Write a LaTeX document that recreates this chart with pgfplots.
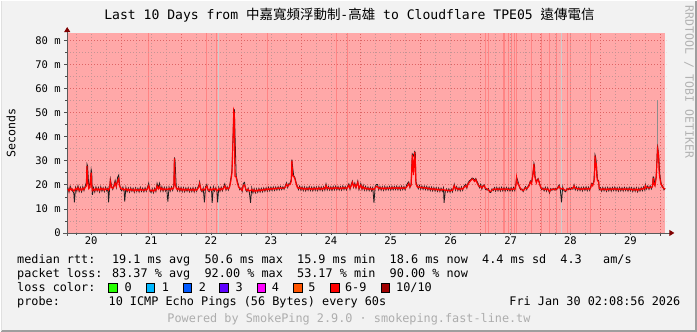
\documentclass[border=0pt]{standalone}
\usepackage{fontspec}
\setmainfont{DejaVu Sans Mono}
\newfontfamily\cjk{Noto Sans CJK TC}
\usepackage{pgfplots}
\usepackage{pgfplotstable}
\pgfplotsset{compat=1.18}
\usetikzlibrary{arrows.meta}

\definecolor{canvasbg}{RGB}{242,242,242}
\definecolor{losspink}{RGB}{255,168,168}
\definecolor{lossline}{RGB}{255,132,132}
\definecolor{mgridc}{RGB}{222,100,100}
\definecolor{ngridc}{RGB}{196,148,148}
\definecolor{arrowred}{RGB}{128,0,0}
\definecolor{smoke}{RGB}{30,30,30}
\definecolor{smokelite}{RGB}{205,205,205}
\definecolor{lc0}{HTML}{26FF00}
\definecolor{lc1}{HTML}{00B8FF}
\definecolor{lc2}{HTML}{0059FF}
\definecolor{lc3}{HTML}{5E00FF}
\definecolor{lc4}{HTML}{FF00FF}
\definecolor{lc5}{HTML}{FF5500}
\definecolor{lc6}{HTML}{FF0000}
\definecolor{lc10}{HTML}{A00000}

% x = day of January (fractional), m = median rtt (ms), s = smoke (ms)
\pgfplotstableread{
x m s
20.11 18.3 18.9
20.13 17.5 17.0
20.15 18.6 19.4
20.17 17.8 18.2
20.19 18.2 17.4
20.21 17.4 16.6
20.22 17.6 12.7
20.24 18.5 18.9
20.26 17.9 17.3
20.28 18.8 19.6
20.30 17.6 17.2
20.32 18.4 18.9
20.34 17.7 17.1
20.36 18.6 19.2
20.38 18.0 17.6
20.40 18.9 19.5
20.42 19.5 21.0
20.43 27.8 28.6
20.44 22.0 27.9
20.46 18.4 19.2
20.48 19.0 20.5
20.50 25.0 26.3
20.51 19.5 25.0
20.52 17.6 15.8
20.54 18.2 18.8
20.56 17.6 17.0
20.58 18.5 19.1
20.60 17.8 17.4
20.62 18.3 18.9
20.64 17.6 17.0
20.66 18.6 19.2
20.68 17.9 17.3
20.70 18.4 18.8
20.72 17.7 17.2
20.74 18.5 19.0
20.76 18.0 17.5
20.78 18.3 18.7
20.79 17.8 12.7
20.81 18.7 19.2
20.82 21.5 22.4
20.84 18.9 19.6
20.86 18.5 18.1
20.88 19.2 19.9
20.90 20.8 21.8
20.92 19.4 19.0
20.94 21.5 23.0
20.96 22.5 24.0
20.97 19.8 21.0
20.99 18.6 18.2
21.01 18.1 17.5
21.03 18.4 19.0
21.05 17.8 17.2
21.06 17.9 13.0
21.08 18.4 18.9
21.10 17.6 17.1
21.12 18.2 18.7
21.14 17.5 17.0
21.16 18.3 18.8
21.18 17.7 17.3
21.20 18.1 18.6
21.22 17.4 16.9
21.24 18.2 18.7
21.26 17.6 17.2
21.28 18.0 18.5
21.30 17.5 17.0
21.32 18.3 18.9
21.34 17.7 17.3
21.36 18.1 18.6
21.38 17.6 17.1
21.40 18.2 18.8
21.42 17.8 17.3
21.44 18.4 18.9
21.46 19.6 20.6
21.48 17.9 17.3
21.50 17.4 16.8
21.52 17.9 18.4
21.54 17.2 16.7
21.56 18.1 18.6
21.58 17.7 17.2
21.60 19.5 20.6
21.62 18.3 18.8
21.64 19.3 20.6
21.66 18.0 17.5
21.68 18.6 19.2
21.70 17.8 17.3
21.72 18.4 18.9
21.74 17.9 17.4
21.76 18.3 18.8
21.78 18.0 13.0
21.80 18.5 19.0
21.82 17.9 17.4
21.84 18.6 19.1
21.86 18.2 17.7
21.88 19.0 19.6
21.89 31.0 31.4
21.90 20.5 30.0
21.92 18.6 19.2
21.94 18.0 17.5
21.96 18.6 19.1
21.98 17.8 17.3
22.00 18.4 18.9
22.02 17.7 17.2
22.04 18.3 18.8
22.06 17.6 17.1
22.08 18.2 18.7
22.10 17.8 17.3
22.12 18.3 18.8
22.14 17.6 17.1
22.16 18.1 18.6
22.18 17.7 17.2
22.20 18.3 18.8
22.22 17.5 17.0
22.24 18.2 18.7
22.26 17.8 17.3
22.28 18.4 18.9
22.30 19.2 20.0
22.31 20.4 21.2
22.33 18.3 17.8
22.35 17.6 17.1
22.37 18.2 18.7
22.39 17.8 12.7
22.41 18.6 19.2
22.43 19.4 20.1
22.45 18.1 17.6
22.47 17.6 17.1
22.49 18.3 18.9
22.51 17.7 17.2
22.52 17.9 12.5
22.54 18.5 19.1
22.56 17.9 17.4
22.58 18.3 18.8
22.60 17.5 17.0
22.61 17.6 12.7
22.63 18.4 18.9
22.65 17.8 17.3
22.67 18.5 19.0
22.69 18.0 17.5
22.71 18.6 19.1
22.73 19.5 20.4
22.75 18.2 17.8
22.77 18.7 19.2
22.79 18.3 17.8
22.81 19.0 19.5
22.83 21.5 22.4
22.85 25.0 26.0
22.87 41.0 41.5
22.88 50.6 50.6
22.89 49.5 51.0
22.90 23.6 41.5
22.92 23.2 23.8
22.94 20.8 21.5
22.96 19.1 19.8
22.98 18.5 18.0
23.00 18.2 18.7
23.02 17.7 17.2
23.04 19.8 20.6
23.06 19.9 21.0
23.08 18.3 17.8
23.10 17.6 17.1
23.12 18.1 18.6
23.14 17.4 16.9
23.16 17.6 12.5
23.18 18.1 18.7
23.20 17.3 16.6
23.22 17.9 18.4
23.24 17.2 16.7
23.26 17.8 18.3
23.28 17.4 16.9
23.30 18.0 18.5
23.32 17.5 17.0
23.34 18.0 18.5
23.36 17.6 17.1
23.38 18.2 18.7
23.40 17.8 17.3
23.42 18.3 18.8
23.44 17.9 17.4
23.46 18.4 18.9
23.48 18.0 17.5
23.50 18.5 19.0
23.52 18.1 17.6
23.54 18.6 19.1
23.56 18.2 17.7
23.58 18.6 19.1
23.60 18.3 17.8
23.62 18.7 19.2
23.64 18.4 17.9
23.66 18.8 19.3
23.68 18.5 18.0
23.70 18.7 19.2
23.72 18.6 18.1
23.74 19.0 19.6
23.76 20.2 20.8
23.78 19.4 18.9
23.80 20.0 20.6
23.82 20.1 20.7
23.84 21.5 22.2
23.85 30.0 30.4
23.86 24.0 28.0
23.88 23.5 23.8
23.90 22.5 23.0
23.92 20.5 21.0
23.94 19.0 19.5
23.96 18.5 18.0
23.98 18.9 19.4
24.00 18.3 17.8
24.02 18.7 19.2
24.04 18.1 17.6
24.06 18.6 19.1
24.08 18.0 17.5
24.10 18.5 19.0
24.12 18.2 17.7
24.14 18.7 19.2
24.16 18.1 17.6
24.18 18.5 19.0
24.20 18.0 17.5
24.22 18.6 19.1
24.24 18.2 17.7
24.26 18.6 19.1
24.28 18.1 17.6
24.30 18.7 19.2
24.32 18.2 17.7
24.34 18.6 19.1
24.36 18.1 17.6
24.38 18.7 19.2
24.40 18.3 17.8
24.42 19.6 20.3
24.44 18.4 17.9
24.46 18.8 19.3
24.48 18.3 17.8
24.50 18.7 19.2
24.52 18.2 17.7
24.54 18.8 19.3
24.56 18.4 17.9
24.58 18.9 19.4
24.60 18.4 17.9
24.62 18.8 19.3
24.64 18.3 17.8
24.66 18.7 19.2
24.68 18.3 17.8
24.70 18.9 19.5
24.72 18.5 18.0
24.74 18.8 19.3
24.76 18.4 17.9
24.78 18.9 19.4
24.80 19.8 20.4
24.82 18.6 18.1
24.84 19.6 20.2
24.86 21.0 21.5
24.88 19.3 19.0
24.90 20.1 20.7
24.92 19.0 18.6
24.95 21.0 21.5
24.97 18.6 18.0
25.00 19.9 20.5
25.02 18.5 18.0
25.04 19.2 19.8
25.06 18.3 17.8
25.08 18.8 19.3
25.10 18.2 17.7
25.12 18.6 19.1
25.14 18.1 17.6
25.16 18.5 19.0
25.18 18.0 17.5
25.20 18.4 18.9
25.22 18.0 12.5
25.24 18.7 19.2
25.26 19.3 20.1
25.28 19.2 20.1
25.30 18.4 17.9
25.32 18.8 19.3
25.34 18.3 17.8
25.36 18.7 19.2
25.38 18.2 17.7
25.40 18.8 19.3
25.42 18.3 17.8
25.44 18.7 19.2
25.46 18.4 17.9
25.48 18.8 19.3
25.50 18.3 17.8
25.52 18.9 19.4
25.54 18.4 17.9
25.56 18.8 19.3
25.58 18.5 18.0
25.60 18.9 19.4
25.62 18.4 17.9
25.64 18.8 19.3
25.66 18.3 17.8
25.68 18.9 19.4
25.70 18.5 18.0
25.72 18.8 19.3
25.74 18.4 17.9
25.76 19.0 19.5
25.78 19.6 20.6
25.80 20.5 21.2
25.82 19.2 18.8
25.84 19.8 20.5
25.86 32.5 32.8
25.88 24.0 32.0
25.90 33.5 33.8
25.91 30.0 33.5
25.92 20.6 21.3
25.94 19.2 19.8
25.96 18.9 18.4
25.98 19.2 19.7
26.00 18.7 18.2
26.02 19.0 19.5
26.04 18.6 18.1
26.06 18.9 19.4
26.08 18.5 18.0
26.10 18.8 19.3
26.12 18.3 17.8
26.14 18.6 19.1
26.16 18.1 17.6
26.18 18.5 19.0
26.20 18.0 17.5
26.22 18.4 18.9
26.24 17.9 17.4
26.26 18.3 18.8
26.28 17.8 17.3
26.30 18.2 18.7
26.32 17.7 17.2
26.34 18.1 18.6
26.36 17.8 17.3
26.38 18.2 18.7
26.39 17.9 12.5
26.41 17.6 17.2
26.43 17.9 18.3
26.45 17.5 17.0
26.47 17.8 18.3
26.49 17.4 16.9
26.51 17.8 18.3
26.53 17.6 17.1
26.56 19.6 20.2
26.58 18.3 17.8
26.60 18.7 19.2
26.62 18.1 17.6
26.64 18.4 18.9
26.66 18.0 17.5
26.68 18.6 19.1
26.70 18.2 17.7
26.72 18.8 19.3
26.75 19.6 20.2
26.77 19.0 18.6
26.79 20.2 20.8
26.81 21.0 21.6
26.83 21.6 22.0
26.86 22.4 22.8
26.88 22.0 22.6
26.90 21.4 21.9
26.92 22.2 22.6
26.94 20.8 21.4
26.96 19.8 20.4
26.98 19.2 18.8
27.00 19.5 20.1
27.02 18.7 18.2
27.04 19.3 19.8
27.06 19.6 20.0
27.08 18.6 18.1
27.11 18.3 17.8
27.13 17.9 18.4
27.15 17.4 16.9
27.17 17.3 16.8
27.19 17.8 18.3
27.21 18.1 17.6
27.23 18.3 18.8
27.25 17.9 17.4
27.27 18.4 18.9
27.29 18.0 17.5
27.31 18.3 18.8
27.33 17.9 17.4
27.35 18.4 18.9
27.37 18.0 17.5
27.39 18.3 18.8
27.41 17.9 17.4
27.43 18.4 18.9
27.45 18.1 17.6
27.47 18.2 18.7
27.49 17.9 17.4
27.51 18.3 18.8
27.53 18.0 17.5
27.55 18.4 18.9
27.57 18.1 17.6
27.59 19.8 20.5
27.60 22.8 23.1
27.61 21.0 22.5
27.63 20.3 20.8
27.65 19.2 18.8
27.67 18.3 17.9
27.69 17.9 18.3
27.71 17.6 17.2
27.73 18.0 18.5
27.75 18.7 19.2
27.77 18.4 18.0
27.79 18.9 19.4
27.81 19.6 20.2
27.83 21.2 21.6
27.85 20.4 21.0
27.87 23.6 24.0
27.89 28.6 28.9
27.90 24.5 28.0
27.91 22.8 23.3
27.93 20.8 21.2
27.94 21.5 21.9
27.96 22.2 22.6
27.98 20.6 21.1
28.00 19.2 18.8
28.02 18.4 18.0
28.04 18.2 18.7
28.06 18.0 17.5
28.08 18.4 18.9
28.10 17.9 17.4
28.12 18.3 18.8
28.14 17.8 17.3
28.15 17.2 16.6
28.17 17.9 18.4
28.19 18.2 17.7
28.21 18.0 18.5
28.23 18.3 17.8
28.25 17.9 18.4
28.27 18.4 17.9
28.29 18.6 19.1
28.31 19.4 19.9
28.33 18.5 18.0
28.35 18.2 12.7
28.37 18.6 19.1
28.39 18.1 17.6
28.42 17.6 17.1
28.44 18.0 18.5
28.46 18.4 17.9
28.48 18.2 18.7
28.50 18.5 18.0
28.52 18.3 18.8
28.54 18.7 18.2
28.56 19.5 20.0
28.58 18.4 17.9
28.60 18.6 19.1
28.62 18.2 17.7
28.64 18.5 19.0
28.66 18.1 17.6
28.68 18.4 18.9
28.70 18.0 17.5
28.72 18.5 19.0
28.74 18.2 17.7
28.76 18.6 19.1
28.78 18.1 17.6
28.80 18.5 19.0
28.82 18.2 17.7
28.84 18.9 19.4
28.85 20.2 20.6
28.87 19.6 20.2
28.89 21.1 21.5
28.90 23.0 26.0
28.91 32.1 32.4
28.92 27.0 31.5
28.93 29.2 29.5
28.94 23.5 26.0
28.95 21.8 22.3
28.97 21.2 21.6
28.98 18.5 18.0
29.00 18.3 18.8
29.02 17.9 17.4
29.04 18.4 18.9
29.06 18.0 17.5
29.08 18.3 18.8
29.10 17.8 17.3
29.12 18.4 18.9
29.14 18.0 17.5
29.16 18.3 18.8
29.18 17.9 17.4
29.20 18.4 18.9
29.22 18.1 17.6
29.24 18.5 19.0
29.26 18.0 17.5
29.28 18.3 18.8
29.30 17.9 17.4
29.32 18.4 18.9
29.34 18.0 17.5
29.36 18.3 18.8
29.38 17.9 17.4
29.40 18.4 18.9
29.42 18.1 17.6
29.44 18.3 18.8
29.46 17.9 17.4
29.48 18.4 18.9
29.50 18.0 17.5
29.52 18.3 18.8
29.54 17.7 17.2
29.56 18.2 18.7
29.58 17.8 17.3
29.60 18.3 18.8
29.62 17.6 17.1
29.64 18.2 18.7
29.66 17.9 17.4
29.68 18.4 18.9
29.70 18.1 17.6
29.72 18.6 19.1
29.74 18.3 17.8
29.75 19.6 20.1
29.77 18.8 18.3
29.79 19.0 19.5
29.81 18.6 18.1
29.83 19.1 19.6
29.85 18.8 18.3
29.87 19.3 19.8
29.88 22.8 23.3
29.89 20.5 23.0
29.91 19.6 20.1
29.93 22.9 23.4
29.94 27.9 28.4
29.95 33.0 35.5
29.955 34.7 36.0
29.97 32.2 32.6
29.98 25.2 29.0
29.99 23.0 24.5
30.01 20.3 21.0
30.03 19.6 19.1
30.04 19.0 19.5
30.06 18.4 17.9
30.08 18.2 18.6
}\rtt

\newcommand\legfont{\fontsize{11.84}{14}\selectfont}

\pgfplotsset{
  rrdframe/.style={
    at={(66.3pt,98.7pt)}, anchor=south west,
    scale only axis, width=600pt, height=200.2pt,
    xmin=20.1, xmax=30.1, ymin=0, ymax=83,
  }
}

\begin{document}
\begin{tikzpicture}
\fill[canvasbg] (0pt,0pt) rectangle (697pt,331pt);
\draw[black!38, line width=2pt] (696pt,331pt) -- (696pt,1pt) -- (0pt,1pt);
\draw[black!12, line width=1.5pt] (0.75pt,1pt) -- (0.75pt,331pt);

% background axis: loss-colour area
\begin{axis}[rrdframe, hide axis]
\addplot[fill=losspink, draw=none] coordinates {(20.1,83) (30.08,83)} \closedcycle;
\addplot[ycomb, draw=lossline, line width=1.3pt] coordinates {
 (21.462,83) (22.420,83) (22.587,83) (23.440,83) (24.595,83) (24.778,83)
 (27.078,83) (27.135,83) (27.390,83) (27.470,83) (27.512,83) (27.560,83)
 (27.595,83) (27.853,83) (28.015,83) (28.145,83) (28.262,83) (28.445,83)
 (28.495,83) (28.833,83)};
\addplot[ycomb, draw=smokelite, line width=0.9pt] coordinates {(22.62,83) (28.345,83)};
\end{axis}

% foreground axis: grid, ticks, data
\begin{axis}[
  rrdframe,
  axis x line*=bottom, axis y line*=left,
  axis line style={draw=black!65, line width=0.9pt},
  x axis line style={-{Triangle[length=5pt,width=6pt,color=arrowred]}, shorten >=-8pt, shorten <=-4pt},
  y axis line style={-{Triangle[length=5pt,width=6pt,color=arrowred]}, shorten >=-6pt, shorten <=-3pt},
  tick align=outside,
  xtick={21,22,...,30}, xticklabels={},
  minor xtick={20.25,20.5,...,30},
  extra x ticks={20.5,21.5,...,29.5},
  extra x tick labels={20,21,22,23,24,25,26,27,28,29},
  extra x tick style={major tick length=0pt, grid=none},
  ytick={0,10,...,80},
  yticklabels={0,10 m,20 m,30 m,40 m,50 m,60 m,70 m,80 m},
  minor ytick={5,15,...,75},
  major tick length=3pt, minor tick length=2pt,
  tick style={black!70, line width=0.6pt},
  grid=both,
  major grid style={draw=mgridc, line width=0.6pt, dash pattern=on 1pt off 2pt},
  minor grid style={draw=ngridc, line width=0.6pt, dash pattern=on 1pt off 2pt},
  tick label style={font=\fontsize{10.5}{12}\selectfont, text=black},
]
\addplot[draw=black!45, line width=1pt] coordinates {(29.955,30) (29.955,55)};
\addplot[draw=smoke, line width=0.8pt] table[x=x, y=s] {\rtt};
\addplot[draw=red, line width=1.2pt] table[x=x, y=m] {\rtt};
\end{axis}

% title and side texts
\node[anchor=base, inner sep=0] at (349pt,312pt) {\fontsize{13.1}{15}\selectfont Last 10 Days from {\cjk\fontsize{13.5}{15}\selectfont 中嘉寬頻浮動制}-{\cjk\fontsize{13.5}{15}\selectfont 高雄} to Cloudflare TPE05 {\cjk\fontsize{13.5}{15}\selectfont 遠傳電信}};
\node[rotate=90, inner sep=0] at (10pt,199pt) {\fontsize{11.6}{14}\selectfont Seconds};
\node[rotate=-90, inner sep=0, text=black!30] at (689pt,250pt) {\fontsize{11.5}{14}\selectfont RRDTOOL / TOBI OETIKER};

% legend
\node[anchor=base west, inner sep=0] at (16pt,68pt) {\legfont median rtt:~ 19.1 ms avg~ 50.6 ms max~ 15.9 ms min~ 18.6 ms now~ 4.4 ms sd~ 4.3~~ am/s};
\node[anchor=base west, inner sep=0] at (16pt,54pt) {\legfont packet loss: 83.37 \% avg~ 92.00 \% max~ 53.17 \% min~ 90.00 \% now};
\node[anchor=base west, inner sep=0] at (16pt,40pt) {\legfont loss color:};
\foreach \bx/\cc/\tx/\lx in {108/lc0/0/123.6, 145.3/lc1/1/160.9, 182.2/lc2/2/198, 219/lc3/3/234.7, 256.5/lc4/4/271, 293.3/lc5/5/307.5, 330/lc6/6-9/344.4, 381/lc10/10\slash10/395.6}{
  \filldraw[fill=\cc, draw=black, line width=0.8pt] (\bx pt,39.5pt) rectangle ++(8.4pt,9pt);
  \node[anchor=base west, inner sep=0] at (\lx pt,40pt) {\legfont \tx};
}
\node[anchor=base west, inner sep=0] at (16pt,26pt) {\legfont probe:};
\node[anchor=base west, inner sep=0] at (107.6pt,26pt) {\legfont 10 ICMP Echo Pings (56 Bytes) every 60s};
\node[anchor=base east, inner sep=0] at (680.5pt,26pt) {\legfont Fri Jan 30 02:08:56 2026};
\node[anchor=base, inner sep=0, text=black!32] at (348.5pt,9.5pt) {\legfont Powered by SmokePing 2.9.0 · smokeping.fast-line.tw};
\end{tikzpicture}
\end{document}
